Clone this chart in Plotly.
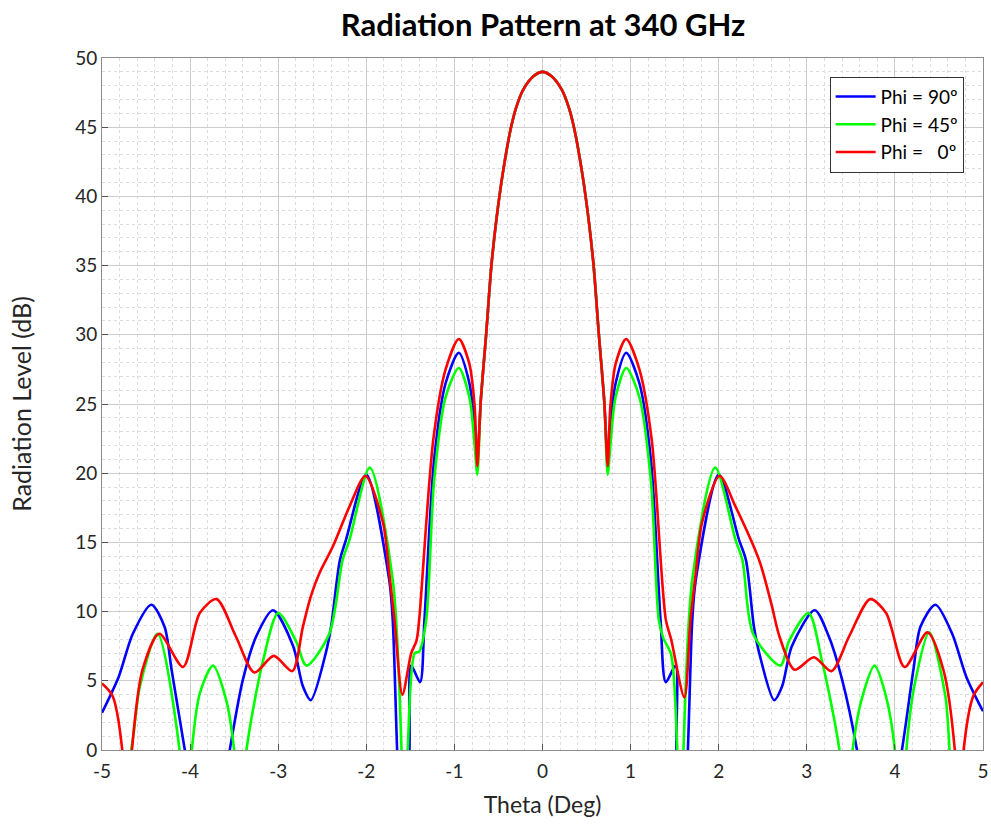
import plotly.graph_objects as go

# ---- data ----
theta_90 = [-5.0, -4.81, -4.65, -4.44, -4.29, -4.21, -4.06, -3.8, -3.55, -3.40, -3.25, -3.06, -2.83, -2.72, -2.63, -2.46, -2.40, -2.30, -2.23, -2.0, -1.74, -1.70, -1.65, -1.58, -1.51, -1.49, -1.39, -1.34, -1.23, -1.10, -0.95, -0.83, -0.77, -0.74,
            -0.70, -0.64, -0.58, -0.52, -0.45, -0.36, -0.30, -0.22, -0.10, 0.0, 0.10, 0.22, 0.30, 0.36, 0.45, 0.52, 0.58, 0.64, 0.70,
            0.74, 0.77, 0.83, 0.95, 1.10, 1.23, 1.34, 1.40, 1.51, 1.52, 1.58, 1.65, 1.70, 1.74, 2.0, 2.23, 2.31, 2.40, 2.46, 2.63, 2.72, 2.83, 3.09, 3.25, 3.40, 3.57, 3.8, 4.08, 4.21, 4.29, 4.46, 4.65, 4.81, 5.0]
db_90 = [2.7, 5.3, 8.4, 10.5, 8.9, 5.8, 0.0, -10.0, 0.0, 5.1, 8.2, 10.1, 7.5, 4.6, 3.6, 7.0, 8.9, 13.7, 15.2, 19.9, 12.3, 9.4, 0.0, -10.0, 0.0, 6.1, 4.9, 9.4, 21.0, 26.5, 28.7, 26.5, 23.5, 21.0,
         25.3, 30.0, 35.0, 38.5, 41.7, 44.9, 46.4, 47.7, 48.7, 49.0, 48.7, 47.7, 46.4, 44.9, 41.7, 38.5, 35.0, 30.0, 25.3,
         21.0, 23.5, 26.5, 28.7, 26.5, 21.0, 9.4, 4.9, 6.1, 0.0, -10.0, 0.0, 9.4, 12.3, 19.9, 15.2, 13.7, 8.9, 7.0, 3.6, 4.6, 7.5, 10.1, 8.2, 5.1, 0.0, -10.0, 0.0, 5.8, 8.9, 10.5, 8.4, 5.3, 2.8]

theta_45 = [-5.0, -4.67, -4.57, -4.37, -4.12, -4.05, -3.98, -3.89, -3.74, -3.59, -3.50, -3.43, -3.36, -3.17, -3.00, -2.80, -2.68, -2.42, -2.27, -2.19, -1.96, -1.70, -1.60, -1.57, -1.53, -1.45, -1.40, -1.32, -1.23, -1.10, -0.95, -0.83, -0.77, -0.74,
            -0.70, -0.64, -0.58, -0.52, -0.45, -0.36, -0.30, -0.22, -0.10, 0.0, 0.10, 0.22, 0.30, 0.36, 0.45, 0.52, 0.58, 0.64, 0.70,
            0.74, 0.77, 0.83, 0.95, 1.10, 1.23, 1.32, 1.37, 1.46, 1.53, 1.57, 1.60, 1.70, 1.96, 2.19, 2.27, 2.39, 2.70, 2.80, 3.02, 3.17, 3.37, 3.44, 3.52, 3.62, 3.77, 3.89, 4.00, 4.06, 4.13, 4.22, 4.39, 4.57, 4.62, 4.67, 5.0]
db_45 = [-8.0, 0.0, 4.6, 8.4, 0.0, -8.0, 0.0, 4.1, 6.1, 3.6, 0.0, -6.0, 0.0, 6.5, 9.9, 7.9, 6.1, 8.4, 13.7, 15.2, 20.4, 12.3, 0.0, -8.0, 0.0, 7.0, 7.1, 9.4, 19.5, 25.5, 27.6, 25.5, 22.0, 19.9,
         25.3, 30.0, 35.0, 38.5, 41.7, 44.9, 46.4, 47.7, 48.7, 49.0, 48.7, 47.7, 46.4, 44.9, 41.7, 38.5, 35.0, 30.0, 25.3,
         19.9, 22.0, 25.5, 27.6, 25.5, 19.5, 9.4, 8.1, 6.9, 0.0, -8.0, 0.0, 12.3, 20.4, 15.2, 13.7, 8.4, 6.1, 7.9, 9.9, 6.5, 0.0, -6.0, 0.0, 3.6, 6.1, 4.1, 0.0, -8.0, 0.0, 4.6, 8.5, 4.0, 0.0, -8.0, -8.0]

theta_0 = [-5.0, -4.88, -4.77, -4.72, -4.66, -4.54, -4.35, -4.08, -3.89, -3.70, -3.48, -3.27, -3.05, -2.84, -2.72, -2.63, -2.53, -2.38, -2.19, -2.01, -1.81, -1.74, -1.68, -1.59, -1.49, -1.43, -1.40, -1.24, -1.10, -0.95, -0.83, -0.77, -0.74,
           -0.70, -0.64, -0.58, -0.52, -0.45, -0.36, -0.30, -0.22, -0.10, 0.0, 0.10, 0.22, 0.30, 0.36, 0.45, 0.52, 0.58, 0.64, 0.70,
           0.74, 0.77, 0.83, 0.95, 1.10, 1.24, 1.40, 1.46, 1.61, 1.68, 1.74, 1.81, 2.01, 2.19, 2.46, 2.60, 2.69, 2.86, 3.08, 3.28, 3.48, 3.72, 3.90, 4.11, 4.37, 4.55, 4.68, 4.73, 4.78, 4.89, 5.0]
db_0 = [4.8, 3.9, 0.0, -8.0, 0.0, 5.8, 8.4, 6.0, 9.9, 10.9, 8.2, 5.6, 6.8, 5.7, 8.9, 11.1, 12.8, 14.7, 17.6, 19.8, 16.4, 12.8, 9.4, 4.0, 7.0, 7.9, 9.4, 22.4, 27.5, 29.7, 27.9, 24.8, 20.5,
        25.3, 30.0, 35.0, 38.5, 41.7, 44.9, 46.4, 47.7, 48.7, 49.0, 48.7, 47.7, 46.4, 44.9, 41.7, 38.5, 35.0, 30.0, 25.3,
        20.5, 24.8, 27.9, 29.7, 27.5, 22.4, 9.4, 8.0, 3.8, 9.4, 12.8, 16.4, 19.8, 17.6, 13.7, 10.5, 8.2, 5.8, 6.7, 5.7, 8.2, 10.9, 9.9, 6.0, 8.5, 5.8, 0.0, -8.0, 0.0, 3.9, 4.9]

series = [
    ("Phi = 90\u00ba", theta_90, db_90, "#0000ff"),
    ("Phi = 45\u00ba", theta_45, db_45, "#00ff00"),
    ("Phi = \u00a0\u00a00\u00ba", theta_0, db_0, "#ff0000"),
]

x_ticks = [-5, -4, -3, -2, -1, 0, 1, 2, 3, 4, 5]
y_ticks = [0, 5, 10, 15, 20, 25, 30, 35, 40, 45, 50]

fig = go.Figure()
for name, xs, ys, col in series:
    fig.add_trace(go.Scatter(x=xs, y=ys, mode="lines", name=name,
                             line=dict(color=col, width=2.6, shape="spline", smoothing=0.8)))

font_fam = "Lato, 'Open Sans', sans-serif"
axis_common = dict(
    showline=True, mirror=True, linecolor="#8c8c8c", linewidth=1,
    ticks="inside", ticklen=6, tickcolor="#555555",
    showgrid=True, gridcolor="#cccccc", gridwidth=1,
    zeroline=False, automargin=False,
    tickfont=dict(family=font_fam, size=19, color="#262626"),
)
fig.update_xaxes(range=[-5, 5], tickvals=x_ticks, ticktext=[str(v) for v in x_ticks],
                 minor=dict(showgrid=True, dtick=0.2, gridcolor="#dddddd", griddash="dot", ticks=""),
                 ticklabelstandoff=4,
                 title=dict(text="Theta (Deg)", font=dict(family=font_fam, size=23, color="#262626"), standoff=16),
                 **axis_common)
fig.update_yaxes(range=[0, 50], tickvals=y_ticks, ticktext=[str(v) for v in y_ticks],
                 minor=dict(showgrid=True, dtick=1, gridcolor="#dddddd", griddash="dot", ticks=""),
                 title=dict(text="Radiation Level (dB)", font=dict(family=font_fam, size=25, color="#262626"), standoff=36),
                 **axis_common)

fig.update_layout(
    width=991, height=827,
    margin=dict(l=102, r=8, t=58, b=77),
    paper_bgcolor="white", plot_bgcolor="white",
    title=dict(text="<b>Radiation Pattern at 340 GHz</b>", x=0.548, xanchor="center", y=0.97, yanchor="middle",
               font=dict(family=font_fam, size=31, color="#000000")),
    legend=dict(x=0.978, y=0.973, xanchor="right", yanchor="top",
                bgcolor="white", bordercolor="#333333", borderwidth=1,
                font=dict(family=font_fam, size=19, color="#000000"),
                tracegroupgap=0, itemwidth=40),
    showlegend=True,
)

fig.write_html("out.html")
